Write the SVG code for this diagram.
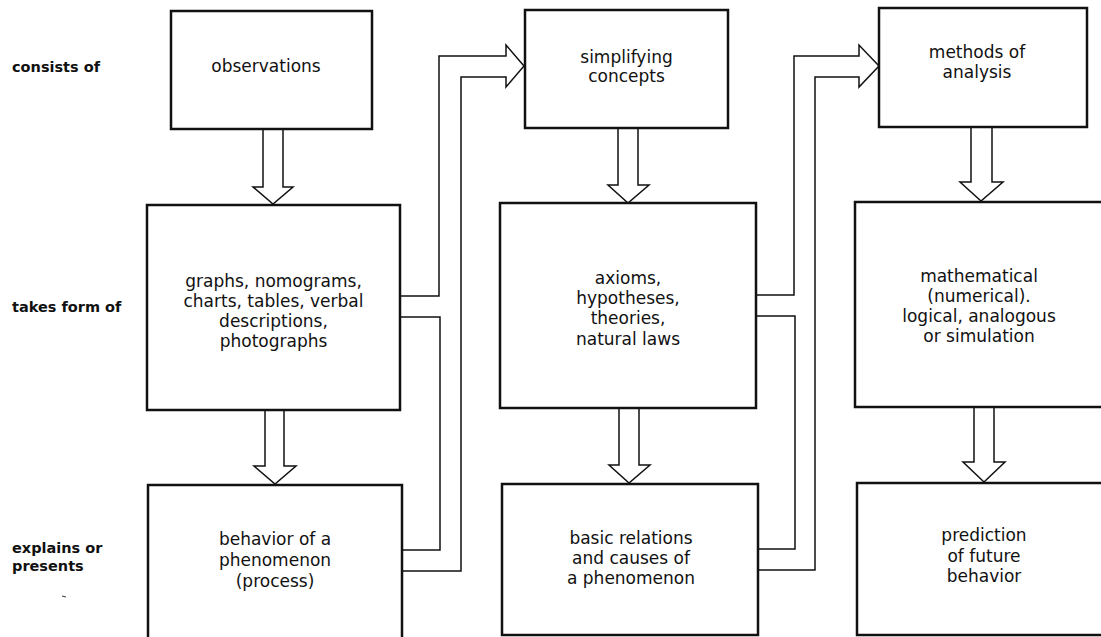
<svg xmlns="http://www.w3.org/2000/svg" width="1101" height="637" viewBox="0 0 1101 637">
<style>
.box{fill:#fff;stroke:#111;stroke-width:2.5}
.t{font-family:"DejaVu Sans","Liberation Sans",sans-serif;font-size:17px;fill:#111;text-anchor:middle}
.lbl{font-family:"DejaVu Sans","Liberation Sans",sans-serif;font-size:14.5px;font-weight:bold;fill:#111}
.con{fill:none;stroke:#111;stroke-width:1.5;stroke-linejoin:miter}
.arr{fill:#fff;stroke:#111;stroke-width:1.5;stroke-linejoin:miter}
</style>
<rect width="1101" height="637" fill="#fff"/>
<g id="row-labels">
<text class="lbl" x="12" y="72">consists of</text>
<text class="lbl" x="12" y="312">takes form of</text>
<text class="lbl" x="12" y="553">explains or</text>
<text class="lbl" x="12" y="571">presents</text>
<line x1="62" y1="596" x2="66" y2="597" stroke="#333" stroke-width="1"/>
</g>
<g id="connectors">
<polyline class="arr" points="263,129 263,187 253,187 273,204 293,187 283,187 283,129"/>
<polyline class="arr" points="265,410 265,466 254,466 275,484 296,466 284,466 284,410"/>
<polyline class="arr" points="618,128 618,185 608,185 628,203 649,185 638,185 638,128"/>
<polyline class="arr" points="619,408 619,465 609,465 629,483 650,465 639,465 639,408"/>
<polyline class="arr" points="971,127 971,182 960,182 981,201 1003,182 992,182 992,127"/>
<polyline class="arr" points="974,407 974,462 963,462 984,482 1005,462 994,462 994,407"/>
<path class="con" d="M400,296 H439 V56 H506 V45 L524,66 L506,87 V77 H461 V571 H402"/>
<path class="con" d="M400,317 H440 V550 H402"/>
<path class="con" d="M756,295 H794 V56 H859 V45 L879,66 L859,87 V77 H815 V570 H758"/>
<path class="con" d="M756,316 H795 V549 H758"/>
</g>
<g id="observations">
<rect class="box" x="171" y="11" width="201" height="118"/>
<text class="t" x="266" y="72">observations</text>
</g>
<g id="graphs">
<rect class="box" x="147" y="205" width="253" height="205"/>
<text class="t" x="273.5" y="287">graphs, nomograms,</text>
<text class="t" x="273.5" y="307">charts, tables, verbal</text>
<text class="t" x="273.5" y="327">descriptions,</text>
<text class="t" x="273.5" y="347">photographs</text>
</g>
<g id="behavior">
<path class="box" d="M148,640 V485 H402 V640" fill="#fff"/>
<text class="t" x="275" y="545">behavior of a</text>
<text class="t" x="275" y="566">phenomenon</text>
<text class="t" x="275" y="587">(process)</text>
</g>
<g id="simplifying">
<rect class="box" x="525" y="10" width="203" height="118"/>
<text class="t" x="626.5" y="63">simplifying</text>
<text class="t" x="626.5" y="82">concepts</text>
</g>
<g id="axioms">
<rect class="box" x="500" y="203" width="256" height="205"/>
<text class="t" x="628" y="284">axioms,</text>
<text class="t" x="628" y="304">hypotheses,</text>
<text class="t" x="628" y="324">theories,</text>
<text class="t" x="628" y="345">natural laws</text>
</g>
<g id="basic-relations">
<rect class="box" x="502" y="484" width="256" height="151"/>
<text class="t" x="631" y="544">basic relations</text>
<text class="t" x="631" y="564">and causes of</text>
<text class="t" x="631" y="584">a phenomenon</text>
</g>
<g id="methods">
<rect class="box" x="879" y="8" width="208" height="119"/>
<text class="t" x="977" y="58">methods of</text>
<text class="t" x="977" y="78">analysis</text>
</g>
<g id="mathematical">
<rect class="box" x="855" y="202" width="260" height="205"/>
<text class="t" x="979" y="282">mathematical</text>
<text class="t" x="979" y="302">(numerical).</text>
<text class="t" x="979" y="322">logical, analogous</text>
<text class="t" x="979" y="342">or simulation</text>
</g>
<g id="prediction">
<rect class="box" x="857" y="483" width="260" height="152"/>
<text class="t" x="984" y="541">prediction</text>
<text class="t" x="984" y="562">of future</text>
<text class="t" x="984" y="582">behavior</text>
</g>
</svg>
